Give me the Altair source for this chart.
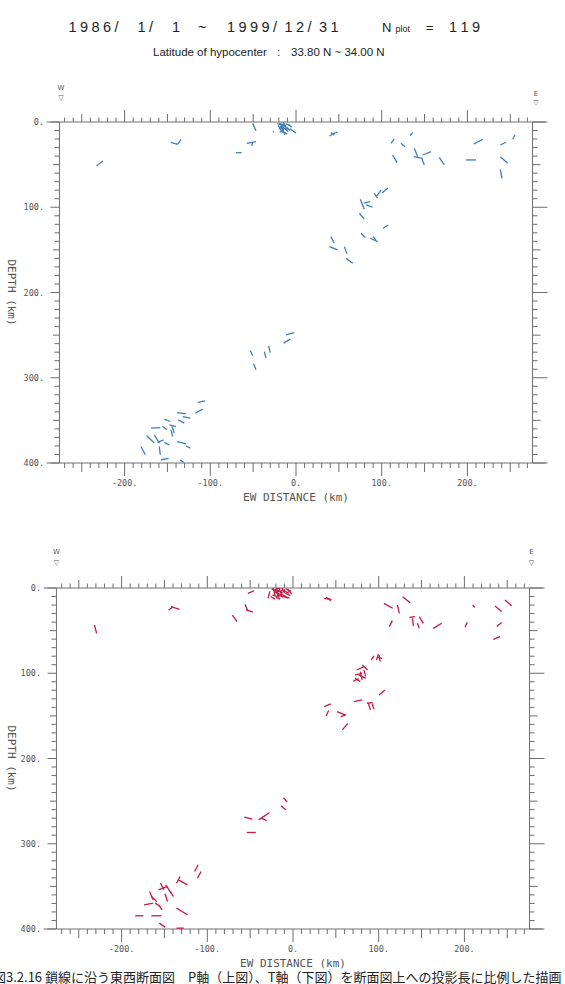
import altair as alt
import pandas as pd

# ---------------- data (km east of origin, depth km) ----------------
# P-axis projections (upper panel), segments as (x1, z1, x2, z2)
p_west = [(-232.8, 51.6, -225.6, 45.7), (-146, 23.8, -138, 26.1), (-138, 26.1, -134.2, 20.3),
          (-50.5, 1.5, -46.7, 10.2), (-57.5, 25, -46.7, 23.1), (-50.5, 23.8, -51.7, 28.1),
          (-70, 36, -63.4, 36)]
p_cluster = [(-20, 2, -14, 5), (-18, 1, -16, 8), (-15, 0, -12, 6), (-19, 6, -13, 4), (-17, 9, -11, 7),
             (-14, 3, -10, 9), (-21, 4, -17, 10), (-16, 5, -15, 12), (-13, 8, -9, 11), (-18, 11, -12, 13),
             (-15, 10, -13, 15), (-12, 2, -8, 4), (-19, 12, -14, 9), (-11, 6, -7, 10), (-17, 3, -13, 2),
             (-20, 8, -16, 6), (-14, 13, -10, 14), (-13, 5, -17, 8), (-22, 2, -18, 3), (-9, 3, -5, 6),
             (-7, 8, 0, 13), (-26, 11, -27, 12)]
p_east = [(38.9, 16.4, 48.7, 11.4), (40.8, 12.5, 44.7, 15.2), (110.9, 25, 114.7, 19.9),
          (122.5, 25, 127.2, 29), (133, 16, 136.2, 12.5), (112.8, 38.7, 117.9, 47.7),
          (138, 30.8, 142, 40.7), (137.3, 40.7, 147.8, 42.6), (147.8, 38.7, 157.5, 34.8),
          (146.7, 42.6, 149.7, 50.4), (167.2, 41.4, 173, 50.4), (198.4, 44.5, 210, 44.5),
          (207.4, 25.8, 217.9, 20.3), (238.4, 27, 245, 23.8), (252.8, 20.3, 255.5, 15.2),
          (238.4, 40.7, 247, 48.4), (238.4, 55.5, 240.4, 66)]
p_mid = [(75, 90.6, 79.7, 102.3), (79, 95.3, 86.7, 93.4), (81.7, 97.3, 89.5, 100), (91.4, 83.6, 95.3, 89.4),
         (93.3, 88, 99.2, 80), (100.3, 83.2, 107.3, 77.4), (73.9, 107, 79.7, 114),
         (75.8, 130.5, 80.9, 135.6), (86.7, 136.4, 95.3, 140.3), (89.8, 134.5, 93.3, 138.3),
         (101.5, 124.7, 107.8, 120.8), (40.8, 134.5, 44.7, 142.2), (38.9, 146.2, 48.7, 150.1),
         (56.4, 146.2, 59.5, 154.7), (58.3, 160, 66.2, 165.6)]
p_deep = [(-11.7, 249.7, -2, 247), (-14.4, 259.4, -6.7, 254.7), (-37, 269.3, -35, 277),
          (-31.9, 262.6, -30, 270.5), (-53.3, 268.1, -50.5, 274.3), (-49.4, 283.7, -46.7, 290.7),
          (-114.7, 329, -106.2, 327.1), (-117.5, 341.5, -108.9, 336.8), (-138.9, 340.8, -128.4, 342.3),
          (-132.2, 345.5, -123.3, 347.4), (-137.3, 349.4, -130.3, 353.2), (-169.2, 359.1, -158.3, 358.4),
          (-153.7, 348.6, -146.7, 351.3), (-155.6, 357.2, -150.5, 361.1), (-147.8, 355.2, -140, 357.2),
          (-145.9, 361.1, -143.9, 369), (-144.7, 357.2, -142, 364.9), (-174.2, 368.1, -165.3, 376.7),
          (-165.3, 366.9, -159.5, 376.7), (-161.4, 375.8, -154.4, 372.8), (-153.7, 375.8, -147.8, 378.7),
          (-138.9, 374.8, -128.4, 377.5), (-128.4, 379.8, -123.3, 382.5), (-180.9, 380.6, -175.8, 390.4),
          (-159.5, 380.6, -158.3, 390.4), (-157.5, 396.2, -148.5, 394.7), (-135, 396.2, -131, 399.4)]

# T-axis projections (lower panel)
t_west = [(-231.7, 43.4, -229.2, 53.2), (-145.1, 25.8, -140, 21.9), (-142.2, 21.9, -132.5, 25),
          (-70.7, 31.7, -65.2, 39.5), (-56, 19.2, -52.6, 27), (-54.7, 25.8, -46.7, 28.2),
          (-52.6, 6.3, -45.4, 3.2)]
t_cluster = [(-25, 1, -19, 4), (-23, 0, -21, 9), (-21, 2, -15, 0), (-20, 5, -14, 8), (-19, 0, -17, 11),
             (-22, 6, -16, 3), (-18, 3, -12, 6), (-17, 8, -11, 11), (-16, 1, -13, 9), (-24, 8, -18, 10),
             (-20, 11, -15, 13), (-15, 4, -9, 2), (-14, 7, -8, 10), (-13, 0, -10, 6), (-12, 9, -6, 12),
             (-11, 3, -5, 6), (-9, 6, -3, 9), (-8, 1, -2, 4), (-27, 4, -29, 12), (-26, 10, -21, 13),
             (-10, 10, -4, 12), (-6, 3, -1, 7), (-18, 5, -23, 2), (-16, 11, -19, 6)]
t_east = [(36.5, 12.1, 44.9, 13.3), (38.6, 11, 44.1, 14.9), (106.2, 18, 116.3, 23.8),
          (121.8, 19.9, 124.1, 29.7), (128, 10.2, 136.6, 17.2), (112.4, 45.3, 115.9, 38.3),
          (135.8, 34.4, 142.4, 33.6), (139.3, 35.6, 140.5, 44.5), (147.4, 33.6, 152.1, 41.4),
          (145.1, 41.4, 147.4, 47.3), (163.7, 47.3, 173.5, 41.4), (200.7, 46.1, 203.4, 40.2),
          (209.6, 19.9, 212.4, 22.7), (235.7, 21.1, 243.5, 27.7), (247.4, 14.1, 255.2, 21.1),
          (237.7, 45.3, 243.5, 40.6), (233.8, 60.2, 241.6, 57.1)]
t_mid = [(91.2, 84.4, 94.6, 79.7), (97.5, 84.4, 99.6, 77.4), (98.8, 81.3, 103.8, 82.5),
         (100.5, 78.6, 101.7, 86.4), (74.4, 96.2, 82.8, 92.3), (80.7, 90.3, 87, 96.2),
         (72.3, 102, 80.7, 100.1), (78.6, 98.1, 80.7, 107.9), (72.3, 106, 78.6, 109.8),
         (76.5, 102, 84.9, 106), (82.8, 96.2, 84.9, 103.6), (70.2, 109.4, 76.5, 106.3),
         (100.5, 125.5, 107.2, 119.6), (71, 133.3, 80.7, 131.3), (86.2, 135.2, 93.3, 134.5),
         (87.9, 135.2, 90.4, 143), (92.5, 136, 94.6, 142.4), (36.5, 139.2, 44.1, 136),
         (38.6, 150.1, 41.6, 143.8), (51.3, 145, 61, 148.9), (55.5, 150.9, 61.8, 148.9),
         (57.6, 166.5, 63.9, 158.7)]
t_deep = [(-11, 246, -7, 251), (-14, 255.5, -8.5, 260), (-40, 272, -27.4, 263.4), (-37, 270, -30.7, 272.8),
          (-56.8, 268.8, -47.6, 271.2), (-53.9, 286.8, -43.4, 286.8), (-114.8, 332.5, -110.6, 324.7),
          (-111.5, 340.4, -107.3, 332.5), (-135.9, 346.2, -131.7, 338.4), (-133.8, 342.3, -123.2, 348.2),
          (-148.5, 348.2, -142.2, 357.9), (-156.9, 354, -146.4, 350.1), (-154.8, 346, -150.6, 353.8),
          (-149.3, 358.7, -146.4, 367.7), (-143.6, 356, -139.4, 361.9), (-167.4, 356, -163.2, 365.8),
          (-173.7, 371.6, -163.2, 369.7), (-160.9, 369.7, -154.6, 373.6), (-156.9, 371.6, -152.7, 377.5),
          (-135.9, 375.5, -123.2, 383.3), (-184.2, 384.5, -174.6, 384.5), (-165.3, 384.5, -153.5, 384.5),
          (-156, 393.1, -149.3, 397.8), (-135.9, 399, -127.5, 399), (-165.3, 361.9, -159, 367.7)]

x_tick_labels = [-200, -100, 0, 100, 200]
z_tick_labels = [0, 100, 200, 300, 400]
title_left = "1986/ 1/ 1"
title_mid = "~"
title_right = "1999/12/31"
nplot_value = "119"
subtitle_a = "Latitude of hypocenter"
subtitle_b = "33.80 N ~ 34.00 N"
caption = "図3.2.16  鎖線に沿う東西断面図　P軸（上図）、T軸（下図）を断面図上への投影長に比例した描画"

# ---------------- layout constants ----------------
W = 565
PXK = 0.857    # px per km (horizontal)
PXZ = 0.8525   # px per km (vertical)
FRAME = 276
AXLINE = 291
GREY = "#6e6e6e"


def seg_df(groups):
    return pd.DataFrame([dict(x1=a, z1=b, x2=c, z2=d) for g in groups for (a, b, c, d) in g])


def panel(groups, color, x0, z0, H, top, y_off):
    xs = alt.Scale(domain=[-x0 / PXK, (W - x0) / PXK], nice=False, zero=False)
    ys = alt.Scale(domain=[-z0 / PXZ, (H - z0) / PXZ], nice=False, zero=False, reverse=True)
    kx = lambda px: (px - x0) / PXK
    kz = lambda py: (py - y_off - z0) / PXZ   # py given in page pixels

    def rules(df, col, sw):
        return alt.Chart(df).mark_rule(color=col, strokeWidth=sw, clip=True).encode(
            x=alt.X("x1:Q", scale=xs, axis=None), x2="x2:Q",
            y=alt.Y("z1:Q", scale=ys, axis=None), y2="z2:Q")

    def texts(df, **kw):
        return alt.Chart(df).mark_text(clip=True, **kw).encode(
            x=alt.X("x:Q", scale=xs, axis=None), y=alt.Y("y:Q", scale=ys, axis=None), text="t:N")

    frame = pd.DataFrame([dict(x1=-AXLINE, z1=0, x2=AXLINE, z2=0),
                          dict(x1=-AXLINE, z1=400, x2=AXLINE, z2=400),
                          dict(x1=-FRAME, z1=0, x2=-FRAME, z2=400),
                          dict(x1=FRAME, z1=0, x2=FRAME, z2=400)])
    tk = []
    for k in range(-270, 271, 10):
        lt = 12 if k % 100 == 0 else (8 if k % 50 == 0 else 4.5)
        lb = 13 if k % 100 == 0 else (9 if k % 50 == 0 else 5)
        tk.append(dict(x1=k, z1=0, x2=k, z2=-lt / PXZ))
        tk.append(dict(x1=k, z1=400, x2=k, z2=400 + lb / PXZ))
    for d in range(0, 401, 10):
        ll = 9 if d % 100 == 0 else (6.5 if d % 50 == 0 else 5)
        lr = 15 if d % 100 == 0 else (8 if d % 50 == 0 else 5)
        tk.append(dict(x1=-FRAME - ll / PXK, z1=d, x2=-FRAME, z2=d))
        tk.append(dict(x1=FRAME, z1=d, x2=FRAME + lr / PXK, z2=d))
    ticks = pd.DataFrame(tk)

    xl = pd.DataFrame(dict(x=x_tick_labels, y=[424] * 5, t=[f"{v}." for v in x_tick_labels]))
    zl = pd.DataFrame(dict(x=[-294] * 5, y=z_tick_labels, t=[f"{v}." for v in z_tick_labels]))
    xt = pd.DataFrame(dict(x=[0], y=[441], t=["EW DISTANCE (km)"]))
    zt = pd.DataFrame(dict(x=[kx(11)], y=[200], t=["DEPTH (km)"]))
    if top:
        wx, ex, wy, wv, ey, ev = 61, 536, 88, 97.5, 93.5, 102.5
    else:
        wx, ex, wy, wv, ey, ev = 56.5, 531.5, 552, 562.5, 552, 562.5
    we = pd.DataFrame(dict(x=[kx(wx), kx(wx), kx(ex), kx(ex)],
                           y=[kz(wy), kz(wv), kz(ey), kz(ev)], t=["W", "▽", "E", "▽"]))

    layers = [
        rules(frame, GREY, 1),
        rules(ticks, GREY, 1),
        rules(seg_df(groups), color, 1.3),
        texts(xl, font="DejaVu Sans Mono", fontSize=8.5, color="#555", align="center", baseline="middle"),
        texts(zl, font="DejaVu Sans Mono", fontSize=8.5, color="#555", align="right", baseline="middle"),
        texts(xt, font="DejaVu Sans Mono", fontSize=11, color="#555", align="center", baseline="middle"),
        texts(zt, font="DejaVu Sans Mono", fontSize=11, color="#555", align="center", baseline="middle",
              angle=90),
        texts(we, font="DejaVu Sans", fontSize=7, color="#555", align="center", baseline="middle"),
    ]
    if top:
        chars = []
        for s, left, adv in [(title_left, 68.5, 11.5), (title_mid, 198, 11.5),
                             (title_right, 227, 11.5), (nplot_value, 449, 11.5)]:
            for i, ch in enumerate(s):
                if ch != " ":
                    chars.append(dict(x=kx(left + i * adv), y=kz(27.5), t=ch))
        layers.append(texts(pd.DataFrame(chars), font="Liberation Sans", fontSize=14.5, color="#222",
                            align="left", baseline="middle"))
        layers.append(texts(pd.DataFrame(dict(x=[kx(382), kx(426)], y=[kz(27.5), kz(27.5)], t=["N", "="])),
                            font="Liberation Sans", fontSize=13, color="#222", align="left",
                            baseline="middle"))
        layers.append(texts(pd.DataFrame(dict(x=[kx(395.5)], y=[kz(29)], t=["plot"])),
                            font="Liberation Sans", fontSize=9, color="#222", align="left",
                            baseline="middle"))
        sub = pd.DataFrame(dict(x=[kx(153), kx(277), kx(291)], y=[kz(52.5)] * 3,
                                t=[subtitle_a, ":", subtitle_b]))
        layers.append(texts(sub, font="Liberation Sans", fontSize=11.5, color="#222", align="left",
                            baseline="middle"))
    else:
        cap = pd.DataFrame(dict(x=[kx(-7)], y=[kz(978)], t=[caption]))
        layers.append(texts(cap, font="Noto Sans CJK JP", fontSize=13, color="#222", align="left",
                            baseline="middle"))
    return alt.layer(*layers).properties(width=W, height=H)


top = panel([p_west, p_cluster, p_east, p_mid, p_deep], "#3f7fb8", 296, 122, 505, True, 0)
bottom = panel([t_west, t_cluster, t_east, t_mid, t_deep], "#c41a46", 293, 83, 479, False, 505)

chart = alt.vconcat(top, bottom, spacing=0).properties(padding=0).configure_view(stroke=None)
chart.save("out.html", embed_options={"renderer": "svg", "actions": False})
